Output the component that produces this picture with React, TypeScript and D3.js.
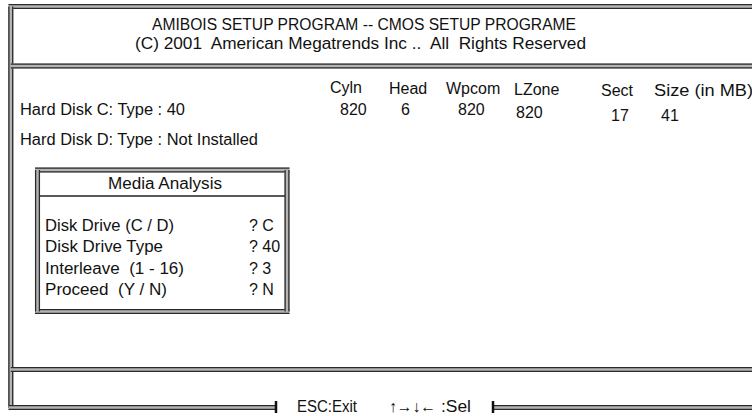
import React, { useRef, useEffect } from 'react';
import * as d3 from 'd3';

// screen content
const titleLines = ['AMIBOIS SETUP PROGRAM -- CMOS SETUP PROGRAME', '(C) 2001  American Megatrends Inc ..  All  Rights Reserved'];
const columns = ['Cyln', 'Head', 'Wpcom', 'LZone', 'Sect', 'Size (in MB)'];
const diskC = ['820', '6', '820', '820', '17', '41'];
const diskLabels = ['Hard Disk C: Type : 40', 'Hard Disk D: Type : Not Installed'];
const mediaTitle = 'Media Analysis';
const mediaLabels = ['Disk Drive (C / D)', 'Disk Drive Type', 'Interleave  (1 - 16)', 'Proceed  (Y / N)'];
const mediaValues = ['? C', '? 40', '? 3', '? N'];
const footerKeys = ['ESC:Exit', '\u2191\u2192\u2193\u2190', ':Sel'];

const W = 752;
const H = 416;
const FONT = '"Liberation Sans", Arial, sans-serif';

function App() {
  const canvas = useRef<HTMLDivElement>(null);

  useEffect(() => {
    d3.select(canvas.current).select('svg').remove();
    const svg = d3.select(canvas.current)
      .append('svg')
      .attr('width', W)
      .attr('height', H)
      .style('position', 'absolute')
      .style('left', '0px')
      .style('top', '0px')
      .style('background', '#fff');

    // double frame line: dark / grey / dark
    const dbl = (x1: number, y1: number, x2: number, y2: number) => {
      const horiz = y1 === y2;
      svg.append('line').attr('x1', x1).attr('y1', y1).attr('x2', x2).attr('y2', y2)
        .attr('stroke', '#b4b4b4').attr('stroke-width', 5);
      [-1.9, 1.9].forEach((o) => {
        svg.append('line')
          .attr('x1', horiz ? x1 : x1 + o).attr('x2', horiz ? x2 : x2 + o)
          .attr('y1', horiz ? y1 + o : y1).attr('y2', horiz ? y2 + o : y2)
          .attr('stroke', '#2a2a2a').attr('stroke-width', 1.3);
      });
    };

    const txt = (s: string, x: number, y: number, len?: number, size = 16, anchor = 'start') => {
      const t = svg.append('text')
        .attr('x', x).attr('y', y)
        .attr('font-family', FONT).attr('font-size', size)
        .attr('text-anchor', anchor)
        .attr('fill', '#111')
        .style('white-space', 'pre')
        .text(s);
      if (len) t.attr('textLength', len).attr('lengthAdjust', 'spacingAndGlyphs');
      return t;
    };

    // outer frame
    dbl(8.5, 6.5, W, 6.5);
    dbl(10.8, 6.5, 10.8, 408);
    dbl(10.8, 66, W, 66);
    dbl(10.8, 369.5, W, 369.5);
    dbl(8.5, 407.5, 276, 407.5);
    dbl(493, 407.5, W, 407.5);
    [276, 493].forEach((x) => {
      svg.append('line').attr('x1', x).attr('x2', x).attr('y1', 401).attr('y2', 413)
        .attr('stroke', '#111').attr('stroke-width', 2.5);
    });

    // header
    txt(titleLines[0], 152, 29.5, 424);
    txt(titleLines[1], 135, 48.5, 451);

    // columns
    const colX = d3.scaleOrdinal<string, number>().domain(columns).range([330, 389, 446, 514, 601, 654]);
    const colY = d3.scaleOrdinal<string, number>().domain(columns).range([93, 94, 94, 95, 95.5, 95.5]);
    const valX = d3.scaleOrdinal<string, number>().domain(columns).range([340, 401, 458, 516, 611, 661]);
    const valY = d3.scaleOrdinal<string, number>().domain(columns).range([115, 115, 115, 118, 121, 121]);
    columns.forEach((c, i) => txt(c, colX(c), colY(c), i === columns.length - 1 ? 99 : undefined));
    diskC.forEach((v, i) => txt(v, valX(columns[i]), valY(columns[i])));

    const diskY = d3.scalePoint<string>().domain(diskLabels).range([114.5, 145]);
    diskLabels.forEach((d, i) => txt(d, 20, diskY(d) as number, i === 0 ? 165 : 238));

    // media analysis box
    const bx0 = 37.5, bx1 = 287, by0 = 170, by1 = 311.5;
    dbl(bx0 - 2.5, by0, bx1 + 2.5, by0);
    dbl(bx0 - 2.5, by1, bx1 + 2.5, by1);
    dbl(bx0, by0, bx0, by1);
    dbl(bx1, by0, bx1, by1);
    svg.append('line').attr('x1', bx0 + 2).attr('x2', bx1 - 2).attr('y1', 196).attr('y2', 196)
      .attr('stroke', '#222').attr('stroke-width', 1.4);
    txt(mediaTitle, 108, 189, 114);

    const rowY = d3.scaleLinear().domain([0, mediaLabels.length - 1]).range([231, 295]);
    const labelLen = [129, 118, 139, 122];
    mediaLabels.forEach((l, i) => txt(l, 45, rowY(i), labelLen[i]));
    mediaValues.forEach((v, i) => txt(v, 249, rowY(i)));

    // footer keys
    txt(footerKeys[0], 297, 412, 60);
    txt(footerKeys[1], 389, 412, 47, 16);
    txt(footerKeys[2], 441, 412, 30);
  }, []);

  return <div ref={canvas}></div>;
}

export default App;
